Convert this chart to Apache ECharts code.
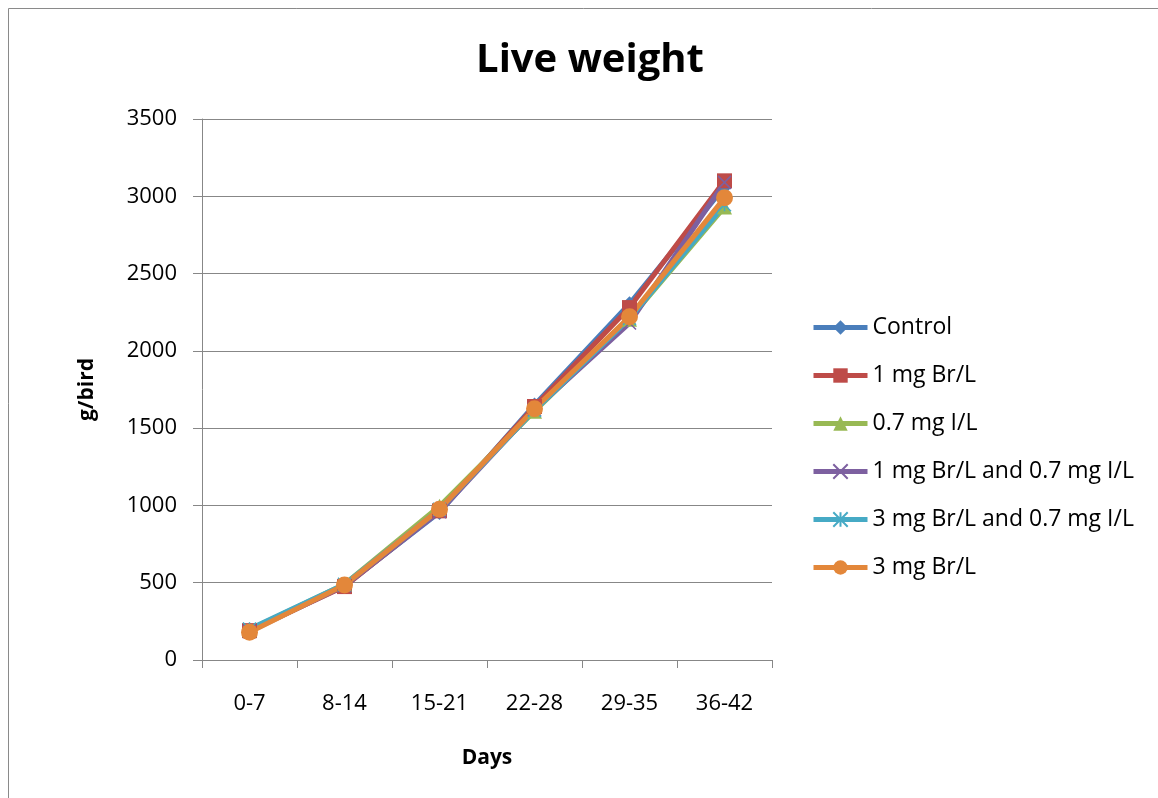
<!DOCTYPE html>
<html>
<head>
<meta charset="utf-8">
<script src="https://cdn.jsdelivr.net/npm/echarts@6/dist/echarts.min.js"></script>
<style>
html,body{margin:0;padding:0;background:#fff;}
#chart{width:1158px;height:798px;}
</style>
</head>
<body>
<div id="chart"></div>
<script>
const categories = ['0-7', '8-14', '15-21', '22-28', '29-35', '36-42'];
const seriesNames = ['Control', '1 mg Br/L', '0.7 mg I/L', '1 mg Br/L and 0.7 mg I/L', '3 mg Br/L and 0.7 mg I/L', '3 mg Br/L'];
const control     = [195, 480, 955, 1650, 2305, 3060];
const br1         = [190, 475, 965, 1640, 2280, 3100];
const i07         = [195, 490, 995, 1610, 2205, 2930];
const br1i07      = [185, 480, 960, 1620, 2180, 3090];
const br3i07      = [200, 490, 975, 1615, 2210, 2945];
const br3         = [180, 485, 975, 1625, 2220, 2990];
const yTicks = [0, 500, 1000, 1500, 2000, 2500, 3000, 3500];

const colors = ['#4A7EBB', '#BE4B48', '#98B954', '#7D60A0', '#46AAC5', '#E3873A'];
const values = [control, br1, i07, br1i07, br3i07, br3];
const symbols = [
  'diamond', 'rect', 'triangle',
  'path://M0,0 L10,10 M10,0 L0,10',
  'path://M0,0 L10,10 M10,0 L0,10 M5,0 L5,10',
  'circle'
];
const symbolSizes = [15, 15, 15, 13, 13, 17];
const FONT = '"Open Sans", "Liberation Sans", sans-serif';

const chart = echarts.init(document.getElementById('chart'));
const series = values.map((v, i) => {
  const outline = i === 3 || i === 4;
  return {
    name: seriesNames[i],
    type: 'line',
    data: v,
    symbol: symbols[i],
    symbolSize: symbolSizes[i],
    showAllSymbol: true,
    lineStyle: {color: colors[i], width: 5},
    itemStyle: outline
      ? {color: 'rgba(0,0,0,0)', borderColor: colors[i], borderWidth: 1.5}
      : {color: colors[i], borderWidth: 0},
    emphasis: {disabled: true},
    animation: false
  };
});

chart.setOption({
  animation: false,
  textStyle: {fontFamily: FONT},
  title: {
    text: 'Live weight',
    left: 585, top: 36,
    textAlign: 'center',
    textStyle: {fontSize: 40, fontWeight: 'bold', color: '#000', fontFamily: FONT}
  },
  graphic: [{
    type: 'rect',
    shape: {x: 8.5, y: 8.5, width: 1200, height: 1000},
    style: {fill: 'none', stroke: '#8a8a8a', lineWidth: 1},
    silent: true
  }],
  grid: {left: 202, right: 386, top: 119, bottom: 138},
  legend: {
    orient: 'vertical',
    left: 806, top: 310,
    itemWidth: 54, itemHeight: 18,
    itemGap: 23,
    lineStyle: {width: 5},
    textStyle: {fontSize: 23, color: '#000', fontFamily: FONT, lineHeight: 25},
    data: seriesNames
  },
  xAxis: {
    type: 'category',
    data: categories,
    boundaryGap: true,
    name: 'Days',
    nameLocation: 'middle',
    nameGap: 88,
    nameTextStyle: {fontSize: 21, fontWeight: 'bold', color: '#000'},
    axisLine: {lineStyle: {color: '#878787', width: 1}},
    axisTick: {show: true, length: 8, lineStyle: {color: '#878787'}},
    axisLabel: {fontSize: 22, color: '#000', margin: 33}
  },
  yAxis: {
    type: 'value',
    min: 0, max: 3500, interval: 500,
    name: 'g/bird',
    nameLocation: 'middle',
    nameGap: 104,
    nameTextStyle: {fontSize: 21, fontWeight: 'bold', color: '#000'},
    axisLine: {show: true, lineStyle: {color: '#878787', width: 1}},
    axisTick: {show: true, length: 9, lineStyle: {color: '#878787'}},
    axisLabel: {fontSize: 22, color: '#000', margin: 25,
      formatter: v => yTicks.includes(v) ? String(v) : ''},
    splitLine: {lineStyle: {color: '#878787', width: 1}}
  },
  series: series
});
</script>
</body>
</html>
